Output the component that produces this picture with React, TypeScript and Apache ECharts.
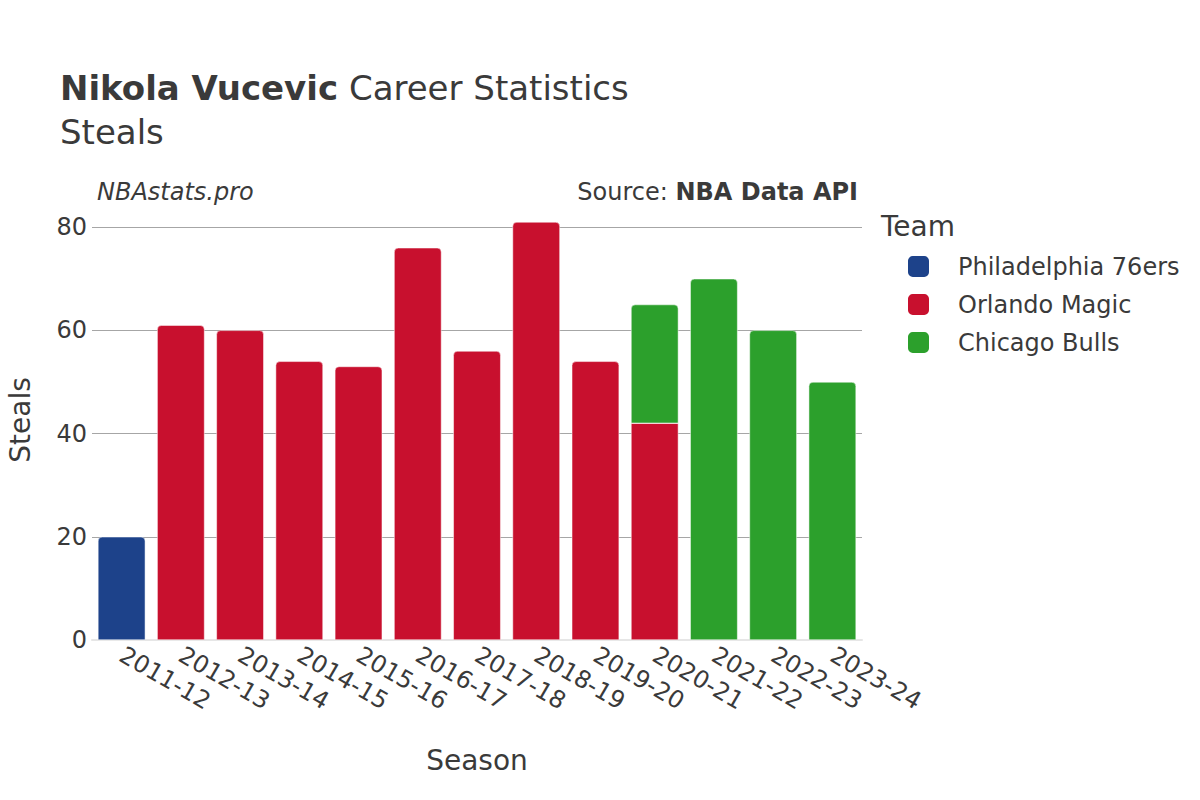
import React, { useEffect, useRef } from "react";
import * as echarts from "echarts";

const seasons = ["2011-12","2012-13","2013-14","2014-15","2015-16","2016-17","2017-18","2018-19","2019-20","2020-21","2021-22","2022-23","2023-24"];
const phi = [20, null, null, null, null, null, null, null, null, null, null, null, null];
const orl = [null, 61, 60, 54, 53, 76, 56, 81, 54, 42, null, null, null];
const chi = [null, null, null, null, null, null, null, null, null, 23, 70, 60, 50];
const teams = ["Philadelphia 76ers", "Orlando Magic", "Chicago Bulls"];
const colors = ["#1D428A", "#C8102E", "#2CA02C"];

const FONT = "DejaVu Sans";
const TXT = "#3a3a3a";

export default function App() {
  const ref = useRef<HTMLDivElement>(null);
  useEffect(() => {
    const chart = echarts.init(ref.current!, null, { renderer: "svg" });
    const mk = (vals: (number | null)[], flatIdx: number[] = []) =>
      vals.map((v, j) =>
        v == null ? null : { value: v, itemStyle: { borderRadius: flatIdx.includes(j) ? 0 : [4, 4, 0, 0] } }
      );
    chart.setOption({
      animation: false,
      textStyle: { fontFamily: FONT },
      title: [
        {
          text: "{b|Nikola Vucevic} Career Statistics",
          left: 55, top: 66,
          textStyle: { fontFamily: FONT, fontSize: 34, color: TXT, fontWeight: "normal", rich: { b: { fontFamily: FONT, fontSize: 34, fontWeight: "bold", color: TXT } } },
        },
        { text: "Steals", left: 55, top: 110, textStyle: { fontFamily: FONT, fontSize: 34, color: TXT, fontWeight: "normal" } },
        { text: "NBAstats.pro", left: 92, top: 175, textStyle: { fontFamily: FONT, fontSize: 24, color: TXT, fontStyle: "italic", fontWeight: "normal" } },
        {
          text: "Source: {b|NBA Data API}", right: 337, top: 175,
          textStyle: { fontFamily: FONT, fontSize: 24, color: TXT, fontWeight: "normal", rich: { b: { fontFamily: FONT, fontSize: 24, fontWeight: "bold", color: TXT } } },
        },
        { text: "Team", left: 876, top: 207, textStyle: { fontFamily: FONT, fontSize: 28, color: TXT, fontWeight: "normal" } },
      ],
      legend: {
        orient: "vertical", left: 906, top: 254, padding: 0, itemWidth: 23, itemHeight: 23, itemGap: 13,
        icon: "roundRect", data: teams,
        textStyle: { fontFamily: FONT, fontSize: 24, color: TXT, padding: [0, 0, 0, 23] },
      },
      grid: { left: 92, right: 338, top: 200, bottom: 160, containLabel: false, outerBoundsMode: "none" },
      xAxis: {
        type: "category", data: seasons,
        name: "Season", nameLocation: "middle", nameGap: 106,
        nameTextStyle: { fontFamily: FONT, fontSize: 28, color: TXT },
        axisLine: { show: true, lineStyle: { color: "#e6e6e6", width: 2 } },
        axisTick: { show: false },
        axisLabel: { interval: 0, rotate: -30, fontFamily: FONT, fontSize: 24, color: TXT, margin: 13 },
      },
      yAxis: {
        type: "value", min: 0, max: 85.26, interval: 20,
        name: "Steals", nameLocation: "middle", nameGap: 58,
        nameTextStyle: { fontFamily: FONT, fontSize: 28, color: TXT },
        axisLabel: { fontFamily: FONT, fontSize: 24, color: TXT, margin: 5, showMaxLabel: false },
        splitLine: { show: true, showMinLine: false, showMaxLine: false, lineStyle: { color: "#a6a6a6", width: 1 } },
        axisLine: { show: false },
        axisTick: { show: false },
      },
      series: [
        { name: teams[0], type: "bar", stack: "s", barWidth: "80%", data: mk(phi), itemStyle: { color: colors[0], borderColor: "#fff", borderWidth: 0.5 } },
        { name: teams[1], type: "bar", stack: "s", barWidth: "80%", data: mk(orl, [9]), itemStyle: { color: colors[1], borderColor: "#fff", borderWidth: 0.5 } },
        { name: teams[2], type: "bar", stack: "s", barWidth: "80%", data: mk(chi), itemStyle: { color: colors[2], borderColor: "#fff", borderWidth: 0.5 } },
      ],
    });
    return () => chart.dispose();
  }, []);
  return <div ref={ref} style={{ width: 1200, height: 800, position: "absolute", left: 0, top: 0 }} />;
}
